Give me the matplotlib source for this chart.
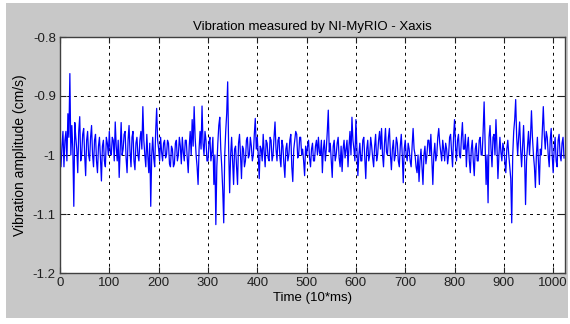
import numpy as np
import matplotlib
matplotlib.use('Agg')
import matplotlib.pyplot as plt
from matplotlib.patches import Rectangle

# sample step of the read-off curve (time in 10*ms)
step = 2

# amplitude values (cm/s), read per block of 100 time units
block_000 = [-1.00, -1.02, -0.985, -0.96, -1.02, -0.975, -0.96, -1.01, -0.93, -0.97,
             -0.862, -1.00, -0.95, -0.99, -1.087, -0.945, -0.97, -0.99, -1.03, -0.96,
             -0.935, -1.01, -1.00, -0.965, -0.955, -1.00, -1.035, -0.975, -0.96, -1.00,
             -1.01, -0.97, -0.95, -1.00, -1.02, -0.975, -0.965, -1.01, -1.03, -0.985,
             -0.97, -1.005, -1.044, -0.985, -0.975, -1.01, -1.02, -0.97, -0.98, -1.00]
block_100 = [-0.96, -0.995, -1.00, -0.97, -0.975, -1.01, -0.944, -0.985, -1.01, -0.975,
             -1.038, -0.99, -0.945, -1.00, -0.99, -0.965, -0.96, -1.005, -1.03, -0.975,
             -0.95, -0.995, -1.02, -0.97, -0.96, -1.01, -1.025, -0.98, -0.97, -1.00,
             -1.01, -0.975, -0.96, -0.99, -0.918, -0.975, -1.00, -1.02, -0.965, -1.00,
             -1.03, -0.98, -1.087, -1.00, -0.97, -1.005, -1.02, -0.96, -0.921, -0.975]
block_200 = [-0.99, -1.01, -0.97, -0.995, -1.01, -0.98, -0.975, -1.005, -1.00, -0.975,
             -0.98, -1.015, -1.02, -0.985, -0.99, -1.02, -1.015, -0.98, -0.975, -1.01,
             -1.00, -0.97, -0.985, -1.015, -0.97, -0.995, -1.01, -0.975, -0.975, -1.005,
             -1.03, -0.985, -0.96, -1.00, -0.94, -0.985, -0.918, -0.97, -1.00, -1.02,
             -1.05, -0.99, -0.96, -0.99, -0.917, -0.98, -1.00, -0.96, -0.975, -1.01]
block_300 = [-1.01, -0.98, -0.97, -1.01, -0.995, -0.97, -1.05, -1.00, -1.118, -1.02,
             -0.98, -0.95, -0.936, -0.99, -1.02, -1.06, -1.115, -1.00, -0.96, -0.93,
             -0.876, -0.99, -1.064, -1.00, -0.97, -1.01, -1.05, -0.99, -0.985, -1.02,
             -1.05, -0.98, -0.965, -1.00, -1.04, -0.985, -0.99, -1.02, -1.01, -0.975,
             -0.97, -1.005, -1.00, -0.97, -0.985, -1.01, -1.00, -0.965, -0.938, -0.99]
block_400 = [-0.97, -1.00, -1.04, -0.985, -0.99, -1.01, -0.965, -0.995, -1.02, -0.975,
             -0.98, -1.005, -1.01, -0.97, -0.975, -1.01, -1.00, -0.97, -0.944, -0.99,
             -1.01, -0.975, -0.97, -1.005, -1.02, -0.975, -0.985, -1.015, -1.038, -0.99,
             -0.98, -1.01, -1.00, -0.975, -0.965, -1.02, -1.045, -0.99, -0.975, -0.96,
             -0.965, -1.005, -1.00, -0.97, -0.97, -1.00, -0.99, -1.01, -1.035, -0.985]
block_500 = [-1.00, -0.985, -0.975, -1.005, -1.02, -0.99, -0.98, -1.01, -1.01, -0.985,
             -0.975, -1.00, -0.97, -0.995, -1.00, -0.975, -1.03, -0.99, -0.975, -1.01,
             -0.99, -0.96, -0.924, -0.995, -0.98, -1.01, -1.038, -0.985, -0.975, -1.01,
             -1.00, -0.98, -0.97, -1.005, -1.02, -0.985, -1.028, -0.99, -0.975, -1.005,
             -0.99, -0.975, -1.02, -0.985, -0.96, -1.00, -0.936, -0.975, -0.99, -1.01]
block_600 = [-0.94, -0.99, -1.035, -1.00, -0.98, -1.01, -1.01, -0.975, -0.97, -1.005,
             -1.04, -0.99, -0.975, -1.01, -1.00, -0.97, -0.985, -1.005, -1.02, -0.985,
             -0.965, -1.01, -1.00, -0.975, -0.96, -0.99, -0.955, -1.00, -1.02, -0.98,
             -0.955, -0.995, -1.00, -0.97, -0.955, -1.00, -1.025, -0.99, -0.975, -1.01,
             -1.00, -0.97, -0.98, -1.01, -1.02, -0.985, -0.965, -1.00, -1.047, -0.99]
block_700 = [-0.975, -1.00, -1.01, -0.98, -0.99, -1.01, -1.02, -0.985, -0.955, -0.99,
             -1.00, -1.02, -1.03, -1.00, -1.045, -1.01, -0.99, -1.02, -1.05, -1.00,
             -0.985, -1.015, -1.00, -0.975, -0.975, -1.00, -0.965, -1.01, -1.05, -1.00,
             -0.98, -1.01, -1.00, -0.97, -0.955, -0.98, -0.995, -1.01, -0.975, -0.99,
             -1.01, -0.98, -0.99, -1.015, -1.00, -0.97, -0.965, -0.995, -1.02, -0.97]
block_800 = [-0.94, -0.985, -1.01, -0.975, -0.965, -1.00, -1.005, -0.97, -0.945, -0.99,
             -0.99, -0.965, -1.02, -0.985, -0.97, -1.01, -1.03, -0.99, -0.975, -1.01,
             -1.035, -0.99, -0.98, -1.01, -1.01, -0.975, -0.97, -1.00, -1.00, -0.96,
             -0.91, -0.98, -1.05, -1.00, -1.081, -0.97, -0.95, -0.99, -1.02, -0.97,
             -0.965, -1.00, -0.94, -0.985, -1.04, -1.00, -0.97, -0.995, -1.01, -0.98]
block_900 = [-0.99, -1.01, -1.03, -0.99, -0.975, -1.00, -1.02, -1.04, -1.115, -1.00,
             -0.96, -0.94, -0.906, -0.97, -1.00, -0.97, -0.944, -0.99, -1.02, -0.985,
             -0.95, -1.00, -1.084, -1.01, -0.985, -0.96, -1.00, -0.97, -0.925, -0.97,
             -1.00, -1.02, -1.055, -1.00, -0.97, -1.01, -1.05, -0.99, -1.00, -0.96,
             -0.918, -0.965, -0.99, -0.96, -0.97, -1.00, -1.02, -0.975, -0.955, -1.00]
block_1000 = [-1.03, -0.99, -0.97, -1.01, -1.02, -0.975, -0.965, -1.00, -1.01, -0.98,
              -0.97, -1.005]

amp = (block_000 + block_100 + block_200 + block_300 + block_400 + block_500
       + block_600 + block_700 + block_800 + block_900 + block_1000)
t = np.arange(len(amp)) * step

W, H = 570, 324
fig = plt.figure(figsize=(W / 100, H / 100), dpi=100, facecolor='white')
fig.patches.append(Rectangle((6 / W, 6 / H), 562 / W, 315 / H, transform=fig.transFigure,
                             facecolor='#c8c8c8', edgecolor='none', zorder=-1))

plt.rcParams['font.family'] = ['Liberation Sans Narrow', 'Liberation Sans', 'DejaVu Sans']

ax = fig.add_axes([60 / W, 1 - 273 / H, 505 / W, 236 / H])
ax.plot(t, amp, color='#0000ff', linewidth=0.9)

ax.set_xlim(0, 1024)
ax.set_ylim(-1.2, -0.8)
ax.set_xticks(np.arange(0, 1001, 100))
ax.set_yticks([-1.2, -1.1, -1.0, -0.9, -0.8])
ax.set_yticklabels(['-1.2', '-1.1', '-1', '-0.9', '-0.8'])
ax.grid(True, color='black', linestyle=(0, (3, 4)), linewidth=0.7)
ax.tick_params(direction='in', length=4, top=True, right=True, labelsize=9.5, pad=3,
               colors='#202020')
for s in ax.spines.values():
    s.set_color('#404040')
    s.set_linewidth(1.0)

ax.set_title('Vibration measured by NI-MyRIO - Xaxis', fontsize=9.5, pad=5)
ax.set_xlabel('Time (10*ms)', fontsize=9.5, labelpad=2)
ax.set_ylabel('Vibration amplitude (cm/s)', fontsize=10, labelpad=4)

fig.savefig('out.png', dpi=100)
